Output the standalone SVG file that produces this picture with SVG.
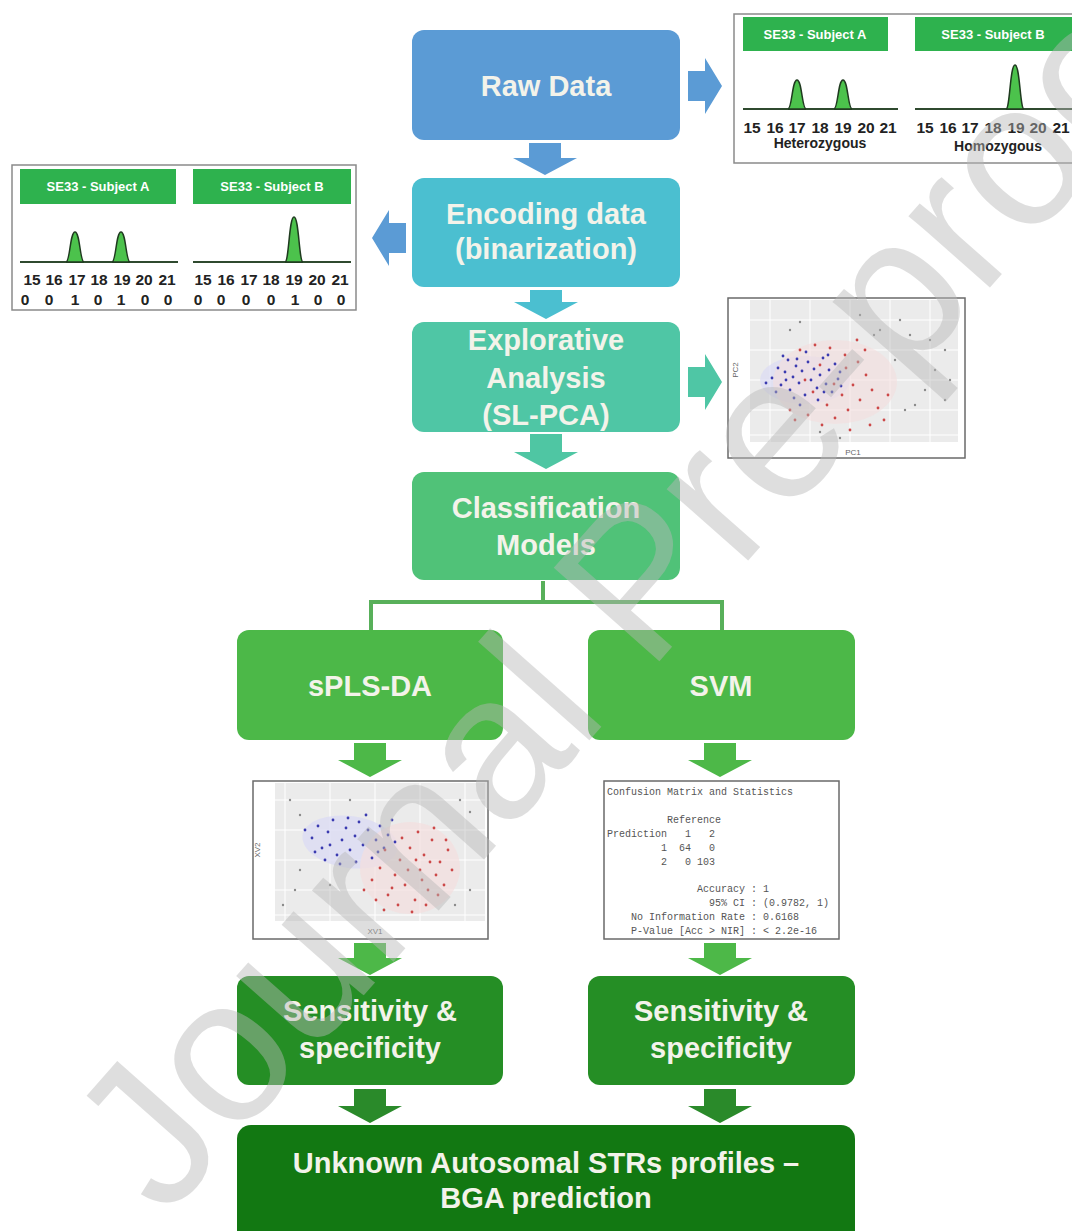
<svg xmlns="http://www.w3.org/2000/svg" width="1072" height="1231" viewBox="0 0 1072 1231">
<defs>
<style>
.main{font-family:"Liberation Sans",Arial,sans-serif;font-weight:bold;font-size:29px;fill:#f3f3ea;text-anchor:middle}
.hdr{font-family:"Liberation Sans",Arial,sans-serif;font-weight:bold;font-size:13px;fill:#ffffff;text-anchor:middle}
.num{font-family:"Liberation Sans",Arial,sans-serif;font-weight:bold;font-size:15.5px;fill:#222;text-anchor:middle}
.zyg{font-family:"Liberation Sans",Arial,sans-serif;font-weight:bold;font-size:14px;fill:#222;text-anchor:middle}
.mono{font-family:"Liberation Mono",monospace;font-size:10px;fill:#555;white-space:pre}
.axl{font-family:"Liberation Sans",Arial,sans-serif;font-size:8px;fill:#666;text-anchor:middle}
.inset{fill:#fff;stroke:#8a8a8a;stroke-width:1.5}
.hbox{fill:#2eb24e}
.base{stroke:#2f4a2f;stroke-width:2;fill:none}
.peak{fill:#4cc24c;stroke:#1f3a1f;stroke-width:1.5}
.tree{fill:none;stroke:#58b05a;stroke-width:4}
.frame{fill:#fff;stroke:#6a6a6a;stroke-width:1.5}
.panel{fill:#ebebeb}
.grid{stroke:#fff;stroke-width:1}
.pb{fill:#3a3ab0}
.pr{fill:#cc4848}
.pg{fill:#8a8a8a}
.wm{font-family:"Liberation Sans",Arial,sans-serif;font-size:205px;fill:#b8b8b8;opacity:0.45}
</style>
</defs>

<!-- Connectors -->
<g id="connectors">
  <path fill="#5b9bd5" d="M529,143 H561 V158 H577 L545,175 L513,158 H529 Z"/>
  <path fill="#4bbfd0" d="M530,290 H562 V302 H578 L546,319 L514,302 H530 Z"/>
  <path fill="#4fc6a3" d="M530,434 H562 V452 H578 L546,469 L514,452 H530 Z"/>
  <path fill="#5b9bd5" d="M688,71 H705 V58 L722,86 L705,114 V101 H688 Z"/>
  <path fill="#4fc6a5" d="M688,367 H705 V354 L722,382 L705,410 V397 H688 Z"/>
  <path fill="#5b9bd5" d="M406,223 H389 V210 L372,238 L389,266 V253 H406 Z"/>
  <path class="tree" d="M543,581 V602 M371,632 V602 H722 V632"/>
  <path fill="#4db848" d="M354,743 H386 V760 H402 L370,777 L338,760 H354 Z"/>
  <path fill="#4db848" d="M704,743 H736 V760 H752 L720,777 L688,760 H704 Z"/>
  <path fill="#4db848" d="M354,943 H386 V958 H402 L370,975 L338,958 H354 Z"/>
  <path fill="#4db848" d="M704,943 H736 V958 H752 L720,975 L688,958 H704 Z"/>
  <path fill="#2a8a2a" d="M354,1089 H386 V1106 H402 L370,1123 L338,1106 H354 Z"/>
  <path fill="#2a8a2a" d="M704,1089 H736 V1106 H752 L720,1123 L688,1106 H704 Z"/>
</g>

<!-- Main flow nodes -->
<g id="raw-data">
  <rect x="412" y="30" width="268" height="110" rx="12" fill="#5b9bd5"/>
  <text class="main" x="546" y="96">Raw Data</text>
</g>
<g id="encoding">
  <rect x="412" y="178" width="268" height="109" rx="12" fill="#4bbfd0"/>
  <text class="main" x="546" y="224">Encoding data</text>
  <text class="main" x="546" y="259">(binarization)</text>
</g>
<g id="explorative">
  <rect x="412" y="322" width="268" height="110" rx="12" fill="#4fc6a5"/>
  <text class="main" x="546" y="350">Explorative</text>
  <text class="main" x="546" y="388">Analysis</text>
  <text class="main" x="546" y="425">(SL-PCA)</text>
</g>
<g id="classification">
  <rect x="412" y="472" width="268" height="108" rx="12" fill="#50c278"/>
  <text class="main" x="546" y="518">Classification</text>
  <text class="main" x="546" y="555">Models</text>
</g>
<g id="splsda">
  <rect x="237" y="630" width="266" height="110" rx="12" fill="#4cb848"/>
  <text class="main" x="370" y="696">sPLS-DA</text>
</g>
<g id="svm">
  <rect x="588" y="630" width="267" height="110" rx="12" fill="#4cb848"/>
  <text class="main" x="721" y="696">SVM</text>
</g>
<g id="sens-left">
  <rect x="237" y="976" width="266" height="109" rx="12" fill="#258e25"/>
  <text class="main" x="370" y="1021">Sensitivity &amp;</text>
  <text class="main" x="370" y="1058">specificity</text>
</g>
<g id="sens-right">
  <rect x="588" y="976" width="267" height="109" rx="12" fill="#258e25"/>
  <text class="main" x="721" y="1021">Sensitivity &amp;</text>
  <text class="main" x="721" y="1058">specificity</text>
</g>
<g id="bga">
  <rect x="237" y="1125" width="618" height="120" rx="14" fill="#127812"/>
  <text class="main" x="546" y="1173">Unknown Autosomal STRs profiles –</text>
  <text class="main" x="546" y="1208">BGA prediction</text>
</g>

<!-- Raw data inset (top right) -->
<g id="raw-inset">
  <rect class="inset" x="734" y="14" width="345" height="149"/>
  <rect class="hbox" x="743" y="17" width="145" height="34"/>
  <text class="hdr" x="815" y="39">SE33 - Subject A</text>
  <rect class="hbox" x="915" y="17" width="160" height="34"/>
  <text class="hdr" x="993" y="39">SE33 - Subject B</text>
  <line class="base" x1="743" y1="109" x2="898" y2="109"/>
  <line class="base" x1="915" y1="109" x2="1072" y2="109"/>
  <path class="peak" d="M788,109 C792,109 792,80 797,80 C802,80 802,109 806,109 Z"/>
  <path class="peak" d="M834,109 C838,109 838,80 843,80 C848,80 848,109 852,109 Z"/>
  <path class="peak" d="M1006,109 C1010,109 1010,65 1015,65 C1020,65 1020,109 1024,109 Z"/>
  <text class="num" x="752" y="133">15</text><text class="num" x="775" y="133">16</text><text class="num" x="797" y="133">17</text><text class="num" x="820" y="133">18</text><text class="num" x="843" y="133">19</text><text class="num" x="866" y="133">20</text><text class="num" x="888" y="133">21</text>
  <text class="num" x="925" y="133">15</text><text class="num" x="948" y="133">16</text><text class="num" x="970" y="133">17</text><text class="num" x="993" y="133">18</text><text class="num" x="1016" y="133">19</text><text class="num" x="1038" y="133">20</text><text class="num" x="1061" y="133">21</text>
  <text class="zyg" x="820" y="148">Heterozygous</text>
  <text class="zyg" x="998" y="151">Homozygous</text>
</g>

<!-- Encoding inset (left) -->
<g id="encoding-inset">
  <rect class="inset" x="12" y="165" width="344" height="145"/>
  <rect class="hbox" x="20" y="169" width="156" height="35"/>
  <text class="hdr" x="98" y="191">SE33 - Subject A</text>
  <rect class="hbox" x="193" y="169" width="158" height="35"/>
  <text class="hdr" x="272" y="191">SE33 - Subject B</text>
  <line class="base" x1="20" y1="262" x2="178" y2="262"/>
  <line class="base" x1="193" y1="262" x2="351" y2="262"/>
  <path class="peak" d="M66,262 C70,262 70,232 75,232 C80,232 80,262 84,262 Z"/>
  <path class="peak" d="M112,262 C116,262 116,232 121,232 C126,232 126,262 130,262 Z"/>
  <path class="peak" d="M285,262 C289,262 289,217 294,217 C299,217 299,262 303,262 Z"/>
  <text class="num" x="32" y="285">15</text><text class="num" x="54" y="285">16</text><text class="num" x="77" y="285">17</text><text class="num" x="99" y="285">18</text><text class="num" x="122" y="285">19</text><text class="num" x="144" y="285">20</text><text class="num" x="167" y="285">21</text>
  <text class="num" x="203" y="285">15</text><text class="num" x="226" y="285">16</text><text class="num" x="249" y="285">17</text><text class="num" x="271" y="285">18</text><text class="num" x="294" y="285">19</text><text class="num" x="317" y="285">20</text><text class="num" x="340" y="285">21</text>
  <text class="num" x="25" y="305">0</text><text class="num" x="49" y="305">0</text><text class="num" x="75" y="305">1</text><text class="num" x="98" y="305">0</text><text class="num" x="121" y="305">1</text><text class="num" x="145" y="305">0</text><text class="num" x="168" y="305">0</text>
  <text class="num" x="198" y="305">0</text><text class="num" x="221" y="305">0</text><text class="num" x="246" y="305">0</text><text class="num" x="271" y="305">0</text><text class="num" x="295" y="305">1</text><text class="num" x="318" y="305">0</text><text class="num" x="341" y="305">0</text>
</g>

<!-- PCA plot -->
<g id="pca-plot">
  <rect class="frame" x="728" y="298" width="237" height="160"/>
  <rect class="panel" x="750" y="300" width="208" height="142"/>
  <path class="grid" d="M770,300V442M810,300V442M850,300V442M890,300V442M930,300V442M750,320H958M750,350H958M750,380H958M750,410H958M750,435H958"/>
  <ellipse cx="805" cy="380" rx="45" ry="24" fill="#dcdcf4" opacity="0.7"/>
  <ellipse cx="835" cy="382" rx="62" ry="42" fill="#f3dede" opacity="0.6"/>
  <g class="pb">
    <circle cx="772" cy="378" r="1.4"/><circle cx="778" cy="368" r="1.4"/><circle cx="781" cy="385" r="1.4"/><circle cx="785" cy="372" r="1.4"/><circle cx="788" cy="360" r="1.4"/><circle cx="790" cy="390" r="1.4"/><circle cx="793" cy="377" r="1.4"/><circle cx="796" cy="366" r="1.4"/><circle cx="799" cy="383" r="1.4"/><circle cx="802" cy="371" r="1.4"/><circle cx="805" cy="395" r="1.4"/><circle cx="808" cy="362" r="1.4"/><circle cx="811" cy="380" r="1.4"/><circle cx="814" cy="369" r="1.4"/><circle cx="817" cy="388" r="1.4"/><circle cx="820" cy="375" r="1.4"/><circle cx="823" cy="358" r="1.4"/><circle cx="826" cy="384" r="1.4"/><circle cx="829" cy="370" r="1.4"/><circle cx="832" cy="392" r="1.4"/><circle cx="835" cy="364" r="1.4"/><circle cx="838" cy="379" r="1.4"/><circle cx="841" cy="386" r="1.4"/><circle cx="776" cy="392" r="1.4"/><circle cx="783" cy="356" r="1.4"/><circle cx="794" cy="398" r="1.4"/><circle cx="806" cy="352" r="1.4"/><circle cx="818" cy="400" r="1.4"/><circle cx="828" cy="355" r="1.4"/><circle cx="840" cy="372" r="1.4"/><circle cx="766" cy="383" r="1.4"/><circle cx="800" cy="405" r="1.4"/><circle cx="786" cy="380" r="1.4"/><circle cx="797" cy="359" r="1.4"/><circle cx="824" cy="392" r="1.4"/>
  </g>
  <g class="pr">
    <circle cx="800" cy="350" r="1.4"/><circle cx="815" cy="345" r="1.4"/><circle cx="830" cy="348" r="1.4"/><circle cx="845" cy="355" r="1.4"/><circle cx="858" cy="362" r="1.4"/><circle cx="866" cy="375" r="1.4"/><circle cx="872" cy="390" r="1.4"/><circle cx="860" cy="400" r="1.4"/><circle cx="848" cy="410" r="1.4"/><circle cx="835" cy="418" r="1.4"/><circle cx="822" cy="425" r="1.4"/><circle cx="808" cy="415" r="1.4"/><circle cx="795" cy="420" r="1.4"/><circle cx="853" cy="385" r="1.4"/><circle cx="842" cy="395" r="1.4"/><circle cx="827" cy="405" r="1.4"/><circle cx="813" cy="392" r="1.4"/><circle cx="865" cy="350" r="1.4"/><circle cx="878" cy="408" r="1.4"/><circle cx="884" cy="420" r="1.4"/><circle cx="850" cy="430" r="1.4"/><circle cx="870" cy="425" r="1.4"/><circle cx="888" cy="395" r="1.4"/><circle cx="820" cy="365" r="1.4"/><circle cx="834" cy="384" r="1.4"/><circle cx="846" cy="368" r="1.4"/><circle cx="857" cy="340" r="1.4"/><circle cx="790" cy="410" r="1.4"/><circle cx="805" cy="380" r="1.4"/>
  </g>
  <g class="pg">
    <circle cx="790" cy="330" r="1.2"/><circle cx="800" cy="322" r="1.2"/><circle cx="860" cy="315" r="1.2"/><circle cx="900" cy="320" r="1.2"/><circle cx="910" cy="335" r="1.2"/><circle cx="930" cy="340" r="1.2"/><circle cx="945" cy="350" r="1.2"/><circle cx="935" cy="370" r="1.2"/><circle cx="925" cy="390" r="1.2"/><circle cx="915" cy="405" r="1.2"/><circle cx="905" cy="410" r="1.2"/><circle cx="945" cy="400" r="1.2"/><circle cx="950" cy="380" r="1.2"/><circle cx="895" cy="360" r="1.2"/><circle cx="880" cy="330" r="1.2"/><circle cx="820" cy="432" r="1.2"/><circle cx="840" cy="438" r="1.2"/><circle cx="874" cy="335" r="1.2"/>
  </g>
  <text class="axl" x="853" y="455">PC1</text>
  <text class="axl" transform="rotate(-90 738 370)" x="738" y="370">PC2</text>
</g>

<!-- sPLS-DA plot -->
<g id="splsda-plot">
  <rect class="frame" x="253" y="781" width="235" height="158"/>
  <rect class="panel" x="275" y="783" width="210" height="138"/>
  <path class="grid" d="M285,783V921M330,783V921M375,783V921M420,783V921M465,783V921M275,800H485M275,830H485M275,860H485M275,890H485M275,915H485"/>
  <ellipse cx="350" cy="842" rx="48" ry="26" transform="rotate(8 350 842)" fill="#dcdcf4" opacity="0.8"/>
  <ellipse cx="410" cy="868" rx="50" ry="46" fill="#f3dede" opacity="0.7"/>
  <g class="pb">
    <circle cx="312" cy="838" r="1.4"/><circle cx="318" cy="826" r="1.4"/><circle cx="322" cy="848" r="1.4"/><circle cx="328" cy="832" r="1.4"/><circle cx="333" cy="820" r="1.4"/><circle cx="337" cy="855" r="1.4"/><circle cx="342" cy="840" r="1.4"/><circle cx="346" cy="828" r="1.4"/><circle cx="350" cy="850" r="1.4"/><circle cx="355" cy="836" r="1.4"/><circle cx="359" cy="822" r="1.4"/><circle cx="363" cy="845" r="1.4"/><circle cx="368" cy="830" r="1.4"/><circle cx="372" cy="858" r="1.4"/><circle cx="376" cy="840" r="1.4"/><circle cx="380" cy="826" r="1.4"/><circle cx="384" cy="848" r="1.4"/><circle cx="388" cy="835" r="1.4"/><circle cx="392" cy="820" r="1.4"/><circle cx="325" cy="860" r="1.4"/><circle cx="340" cy="864" r="1.4"/><circle cx="356" cy="862" r="1.4"/><circle cx="366" cy="815" r="1.4"/><circle cx="348" cy="818" r="1.4"/><circle cx="330" cy="845" r="1.4"/><circle cx="378" cy="852" r="1.4"/><circle cx="315" cy="852" r="1.4"/><circle cx="395" cy="842" r="1.4"/><circle cx="305" cy="830" r="1.4"/>
  </g>
  <g class="pr">
    <circle cx="372" cy="880" r="1.4"/><circle cx="380" cy="868" r="1.4"/><circle cx="388" cy="895" r="1.4"/><circle cx="395" cy="875" r="1.4"/><circle cx="400" cy="860" r="1.4"/><circle cx="405" cy="885" r="1.4"/><circle cx="410" cy="848" r="1.4"/><circle cx="415" cy="900" r="1.4"/><circle cx="420" cy="870" r="1.4"/><circle cx="424" cy="855" r="1.4"/><circle cx="428" cy="890" r="1.4"/><circle cx="432" cy="840" r="1.4"/><circle cx="436" cy="875" r="1.4"/><circle cx="440" cy="862" r="1.4"/><circle cx="444" cy="885" r="1.4"/><circle cx="448" cy="850" r="1.4"/><circle cx="398" cy="905" r="1.4"/><circle cx="412" cy="912" r="1.4"/><circle cx="426" cy="905" r="1.4"/><circle cx="438" cy="895" r="1.4"/><circle cx="385" cy="850" r="1.4"/><circle cx="402" cy="838" r="1.4"/><circle cx="418" cy="832" r="1.4"/><circle cx="434" cy="828" r="1.4"/><circle cx="446" cy="840" r="1.4"/><circle cx="392" cy="888" r="1.4"/><circle cx="408" cy="870" r="1.4"/><circle cx="422" cy="880" r="1.4"/><circle cx="416" cy="860" r="1.4"/><circle cx="430" cy="862" r="1.4"/><circle cx="384" cy="910" r="1.4"/><circle cx="452" cy="870" r="1.4"/><circle cx="364" cy="890" r="1.4"/><circle cx="376" cy="900" r="1.4"/>
  </g>
  <g class="pg">
    <circle cx="290" cy="800" r="1.2"/><circle cx="300" cy="870" r="1.2"/><circle cx="295" cy="890" r="1.2"/><circle cx="330" cy="885" r="1.2"/><circle cx="283" cy="905" r="1.2"/><circle cx="350" cy="800" r="1.2"/><circle cx="460" cy="800" r="1.2"/><circle cx="470" cy="812" r="1.2"/><circle cx="455" cy="905" r="1.2"/><circle cx="470" cy="890" r="1.2"/><circle cx="300" cy="815" r="1.2"/>
  </g>
  <text class="axl" x="375" y="934">XV1</text>
  <text class="axl" transform="rotate(-90 260 850)" x="260" y="850">XV2</text>
</g>

<!-- Confusion matrix -->
<g id="confusion-matrix">
  <rect class="frame" x="604" y="781" width="235" height="158"/>
  <text class="mono" xml:space="preserve" x="607" y="795">Confusion Matrix and Statistics</text>
  <text class="mono" xml:space="preserve" x="607" y="823">          Reference</text>
  <text class="mono" xml:space="preserve" x="607" y="837">Prediction   1   2</text>
  <text class="mono" xml:space="preserve" x="607" y="851">         1  64   0</text>
  <text class="mono" xml:space="preserve" x="607" y="865">         2   0 103</text>
  <text class="mono" xml:space="preserve" x="607" y="892">               Accuracy : 1</text>
  <text class="mono" xml:space="preserve" x="607" y="906">                 95% CI : (0.9782, 1)</text>
  <text class="mono" xml:space="preserve" x="607" y="920">    No Information Rate : 0.6168</text>
  <text class="mono" xml:space="preserve" x="607" y="934">    P-Value [Acc &gt; NIR] : &lt; 2.2e-16</text>
</g>

<!-- Watermark -->
<text class="wm" x="165" y="1220" transform="rotate(-48.5 165 1220)">Journal Pre-proof</text>
</svg>
